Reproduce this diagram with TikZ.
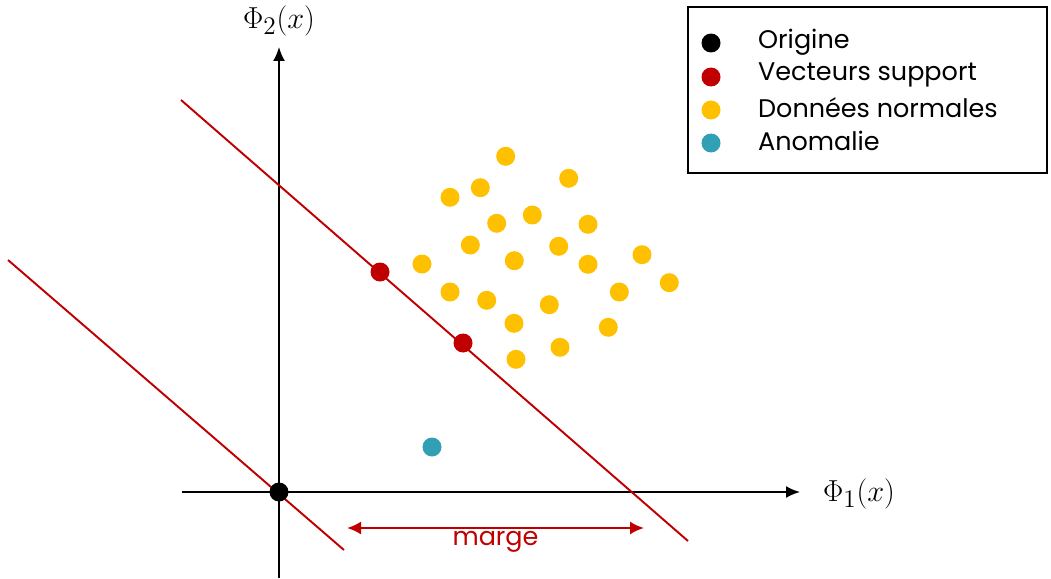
\documentclass[tikz,border=0pt]{standalone}
\usepackage{fontspec}
\setmainfont{Poppins}
\usepackage{tikz}
\usetikzlibrary{arrows.meta,positioning,calc}
\usepackage{xcolor}
\definecolor{svred}{HTML}{C00000}
\definecolor{svgold}{HTML}{FFC000}
\definecolor{svteal}{HTML}{31A0B4}

\begin{document}
\begin{tikzpicture}[x=0.02cm, y=-0.02cm,
  pt/.style={circle, fill=#1, inner sep=0pt, minimum size=0.38cm},
  axis/.style={line width=1.1pt, -{Latex[length=0.28cm,width=0.24cm]}},
  hyper/.style={svred, line width=1.1pt},
  leg/.style={anchor=west, font=\fontsize{14.5}{16}\selectfont}]
  \useasboundingbox (0,0) rectangle (1051,578);

  % axes
  \coordinate (xa) at (182,492);
  \coordinate (xb) at (800,492);
  \coordinate (ya) at (279,578);
  \coordinate (yb) at (279,47);
  \draw[axis] (xa) -- (xb);
  \draw[axis] (ya) -- (yb);
  \node (phi1) at (859,494) {\fontsize{19}{22}\selectfont$\Phi_1(x)$};
  \node (phi2) at (279,21) {\fontsize{19}{22}\selectfont$\Phi_2(x)$};

  % hyperplanes
  \coordinate (h1a) at (181,100);
  \coordinate (h1b) at (688,541);
  \coordinate (h2a) at (8,260);
  \coordinate (h2b) at (344,550);
  \draw[hyper] (h1a) -- (h1b);
  \draw[hyper] (h2a) -- (h2b);

  % marge
  \coordinate (ma) at (347,528);
  \coordinate (mb) at (644,528);
  \draw[svred, line width=1.2pt, {Latex[length=0.28cm,width=0.26cm]}-{Latex[length=0.28cm,width=0.26cm]}] (ma) -- (mb)
    node[midway, below=-2pt, font=\fontsize{14.5}{16}\selectfont] {marge};

  % points
  \node[pt=black] (O) at (279,492) {};
  \node[pt=svteal] (anom) at (432,447) {};
  \node[pt=svred] (sv1) at (380,272) {};
  \node[pt=svred] (sv2) at (463,343) {};

  \node[pt=svgold] (d1) at (505.7,156.3) {};
  \node[pt=svgold] (d2) at (568.7,178.3) {};
  \node[pt=svgold] (d3) at (450,197.3) {};
  \node[pt=svgold] (d4) at (480.3,187.7) {};
  \node[pt=svgold] (d5) at (496.7,223.3) {};
  \node[pt=svgold] (d6) at (532.3,215) {};
  \node[pt=svgold] (d7) at (588,224.3) {};
  \node[pt=svgold] (d8) at (470.3,245) {};
  \node[pt=svgold] (d9) at (558.7,246.3) {};
  \node[pt=svgold] (d10) at (422,264) {};
  \node[pt=svgold] (d11) at (514.3,260.7) {};
  \node[pt=svgold] (d12) at (588,264.3) {};
  \node[pt=svgold] (d13) at (642,254.7) {};
  \node[pt=svgold] (d14) at (450,292) {};
  \node[pt=svgold] (d15) at (486.7,300.3) {};
  \node[pt=svgold] (d16) at (549.3,304.7) {};
  \node[pt=svgold] (d17) at (619.3,292) {};
  \node[pt=svgold] (d18) at (669.3,282.7) {};
  \node[pt=svgold] (d19) at (514,323.3) {};
  \node[pt=svgold] (d20) at (608.3,327.3) {};
  \node[pt=svgold] (d21) at (516,359.3) {};
  \node[pt=svgold] (d22) at (560,347.3) {};

  % legend
  \draw[line width=0.8pt] (688,7) rectangle (1047,173);
  \node[pt=black] (l1) at (711,43) {};
  \node[pt=svred] (l2) at (711,77) {};
  \node[pt=svgold] (l3) at (711,110) {};
  \node[pt=svteal] (l4) at (711,143) {};
  \node[leg] (t1) at (752,42) {Origine};
  \node[leg] (t2) at (752,75) {Vecteurs support};
  \node[leg] (t3) at (752,108) {Données normales};
  \node[leg] (t4) at (752,141) {Anomalie};
\end{tikzpicture}
\end{document}
